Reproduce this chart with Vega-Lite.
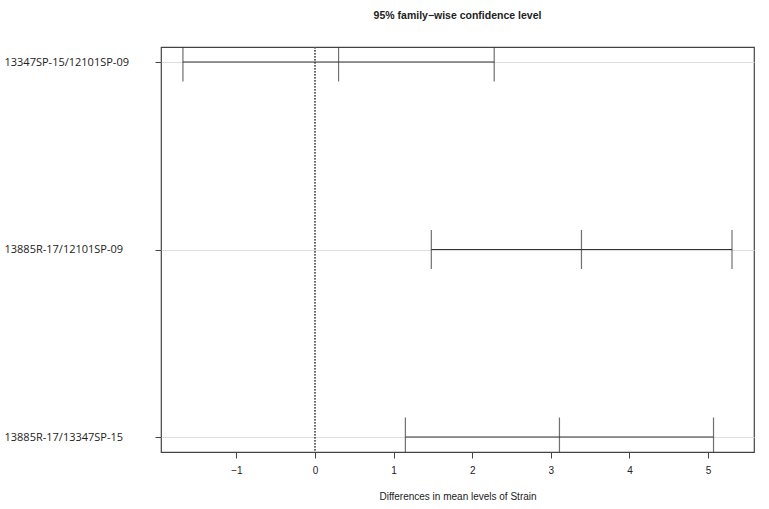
{
  "$schema": "https://vega.github.io/schema/vega-lite/v6.json",
  "autosize": {"type": "none"},
  "width": 593,
  "height": 405,
  "padding": {"left": 161, "top": 47, "right": 15, "bottom": 57},
  "background": "white",
  "title": {
    "text": "95% family−wise confidence level",
    "font": "Liberation Sans",
    "fontSize": 10.5,
    "fontWeight": "bold",
    "color": "#222",
    "anchor": "middle",
    "offset": 25
  },
  "config": {
    "view": {"stroke": "#444", "strokeWidth": 1.2},
    "axis": {"labelColor": "#222", "titleColor": "#222"}
  },
  "data": {
    "values": [
      {"comparison": "13347SP-15/12101SP-09", "diff": 0.30, "lwr": -1.68, "upr": 2.28},
      {"comparison": "13885R-17/12101SP-09", "diff": 3.39, "lwr": 1.48, "upr": 5.305},
      {"comparison": "13885R-17/13347SP-15", "diff": 3.11, "lwr": 1.15, "upr": 5.07}
    ]
  },
  "encoding": {
    "y": {
      "field": "comparison",
      "type": "nominal",
      "sort": null,
      "scale": {"type": "point", "padding": 0.08},
      "axis": {
        "title": null,
        "domain": false,
        "grid": true,
        "gridColor": "#dedede",
        "gridWidth": 1,
        "tickColor": "#444",
        "tickSize": 6,
        "labelAlign": "left",
        "labelPadding": 151,
        "labelFont": "Open Sans",
        "labelFontSize": 11,
        "labelColor": "#222",
        "labelLimit": 0
      }
    }
  },
  "layer": [
    {
      "mark": {"type": "rule", "color": "#555", "strokeDash": [1.5, 1.5], "strokeWidth": 1},
      "encoding": {
        "x": {"datum": 0},
        "y": null
      }
    },
    {
      "mark": {"type": "rule", "color": "#333", "strokeWidth": 1.2},
      "encoding": {
        "x": {
          "field": "lwr",
          "type": "quantitative",
          "scale": {"domain": [-1.959, 5.585], "nice": false, "zero": false},
          "axis": {
            "title": "Differences in mean levels of Strain",
            "titleFont": "Liberation Sans",
            "titleFontSize": 10,
            "titleFontWeight": "normal",
            "titlePadding": 16,
            "values": [-1, 0, 1, 2, 3, 4, 5],
            "format": "d",
            "grid": false,
            "domain": false,
            "tickColor": "#444",
            "tickSize": 6,
            "labelFont": "Liberation Sans",
            "labelFontSize": 10,
            "labelPadding": 7
          }
        },
        "x2": {"field": "upr"}
      }
    },
    {
      "transform": [{"fold": ["lwr", "diff", "upr"], "as": ["stat", "value"]}],
      "mark": {"type": "tick", "color": "#333", "size": 39, "thickness": 1.2, "orient": "vertical", "clip": true},
      "encoding": {
        "x": {"field": "value", "type": "quantitative"}
      }
    }
  ]
}
